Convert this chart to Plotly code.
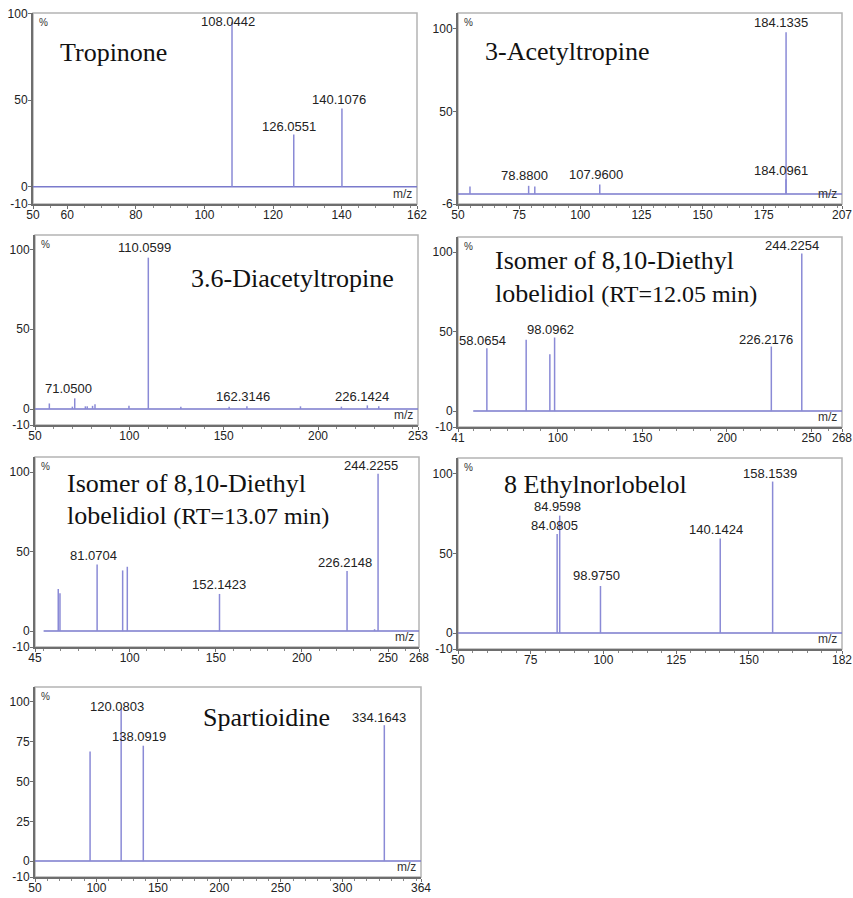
import plotly.graph_objects as go

W, H = 853, 898

# ---------------- spectra (m/z, relative intensity %) ----------------
trop_mz = [108.0442, 126.0551, 140.1076]
trop_int = [95.5, 30.2, 45.2]
trop_lab = ["108.0442", "126.0551", "140.1076"]

acet_mz = [54.9, 78.8800, 81.4, 107.9600, 184.0961, 184.1335]
acet_int = [4.6, 5.0, 4.6, 5.8, 9.0, 97.8]
acet_lab = ["", "78.8800", "", "107.9600", "184.0961", "184.1335"]

diac_mz = [57.6, 69.8, 71.0500, 76.7, 77.7, 80.5, 81.8, 99.8, 110.0599,
           127.3, 152.9, 162.3146, 190.7, 212.4, 226.1424, 232.2]
diac_int = [3.5, 1.5, 6.7, 1.7, 1.7, 2.0, 3.0, 2.0, 94.8,
            1.5, 1.5, 1.7, 1.7, 1.5, 2.3, 1.7]
diac_lab = ["", "", "71.0500", "", "", "", "", "", "110.0599",
            "", "", "162.3146", "", "", "226.1424", ""]

iso1_mz = [58.0654, 81.3, 95.3, 98.0962, 226.2176, 244.2254]
iso1_int = [39.6, 44.8, 35.8, 46.3, 40.6, 99.2]
iso1_lab = ["58.0654", "", "", "98.0962", "226.2176", "244.2254"]

iso2_mz = [58.5, 59.5, 81.0704, 95.9, 98.6, 152.1423, 226.2148, 242.2, 244.2255]
iso2_int = [26.5, 23.8, 42.0, 38.2, 40.5, 23.4, 37.8, 1.2, 99.0]
iso2_lab = ["", "", "81.0704", "", "", "152.1423", "226.2148", "", "244.2255"]

ethyl_mz = [84.0805, 84.9598, 98.9750, 140.1424, 158.1539]
ethyl_int = [62.3, 73.8, 29.6, 59.5, 95.2]
ethyl_lab = ["84.0805", "84.9598", "98.9750", "140.1424", "158.1539"]

spart_mz = [94.8, 120.0803, 138.0919, 334.1643]
spart_int = [68.8, 95.8, 72.5, 85.4]
spart_lab = ["", "120.0803", "138.0919", "334.1643"]

# axis ranges / ticks
trop_xticks = [50, 60, 80, 100, 120, 140, 162]
acet_xticks = [50, 75, 100, 125, 150, 175, 207]
diac_xticks = [50, 100, 150, 200, 253]
iso1_xticks = [41, 100, 150, 200, 250, 268]
iso2_xticks = [45, 100, 150, 200, 250, 268]
ethyl_xticks = [50, 75, 100, 125, 150, 182]
spart_xticks = [50, 100, 150, 200, 250, 300, 364]

std_yticks = [-10, 0, 50, 100]
acet_yticks = [-6, 50, 100]
spart_yticks = [-10, 0, 25, 50, 75, 100]

# ---------------- panel layout (pixel boxes: left, top, right, bottom) ----------------
panels = [
    dict(mz=trop_mz, inten=trop_int, lab=trop_lab, xt=trop_xticks, yt=std_yticks,
         yr=[-10, 100.5], box=(33, 13, 417, 204), minor=5, base0=50,
         shifts=[(-4, 0), (-5, 8), (-3, 9)],
         title=["Tropinone"], tpos=(58, 53)),
    dict(mz=acet_mz, inten=acet_int, lab=acet_lab, xt=acet_xticks, yt=acet_yticks,
         yr=[-6, 109.5], box=(458, 13, 842, 204), minor=5, base0=50,
         shifts=[None, (-4, 10), None, (-4, 10), (-5, 9), (-5, 10)],
         title=["3-Acetyltropine"], tpos=(483, 52)),
    dict(mz=diac_mz, inten=diac_int, lab=diac_lab, xt=diac_xticks, yt=std_yticks,
         yr=[-10, 109], box=(35, 235, 418, 425), minor=10, base0=50,
         shifts=[None, None, (-6, 10), None, None, None, None, None, (-4, 10),
                 None, None, (-4, 10), None, None, (-5, 9), None],
         title=["3.6-Diacetyltropine"], tpos=(189, 278)),
    dict(mz=iso1_mz, inten=iso1_int, lab=iso1_lab, xt=iso1_xticks, yt=std_yticks,
         yr=[-10, 109.5], box=(458, 237, 842, 427), minor=10, base0=50,
         shifts=[(-4, 8), None, None, (-4, 8), (-5, 7), (-10, 8)],
         title=["Isomer of 8,10-Diethyl",
                "lobelidiol <span style='font-size:24px'>(RT=12.05 min)</span>"],
         tpos=(493, 261)),
    dict(mz=iso2_mz, inten=iso2_int, lab=iso2_lab, xt=iso2_xticks, yt=std_yticks,
         yr=[-10, 109.6], box=(35, 457, 419, 647), minor=10, base0=50,
         shifts=[None, None, (-4, 9), None, None, (-1, 9), (-2, 9), None, (-7, 8)],
         title=["Isomer of 8,10-Diethyl",
                "lobelidiol <span style='font-size:24px'>(RT=13.07 min)</span>"],
         tpos=(65, 483)),
    dict(mz=ethyl_mz, inten=ethyl_int, lab=ethyl_lab, xt=ethyl_xticks, yt=std_yticks,
         yr=[-10, 110], box=(458, 458, 842, 649), minor=5, base0=50,
         shifts=[(-3, 8), (-2, 9), (-4, 10), (-4, 9), (-3, 8)],
         title=["8 Ethylnorlobelol"], tpos=(502, 484)),
    dict(mz=spart_mz, inten=spart_int, lab=spart_lab, xt=spart_xticks, yt=spart_yticks,
         yr=[-10, 109.4], box=(35, 687, 421, 877), minor=10, base0=50,
         shifts=[None, (-4, 2), (-4, 9), (-5, 8)],
         title=["Spartioidine"], tpos=(201, 717)),
]

STICK = "#8a8ad6"
BASE = "#7a7acc"
SANS = "Liberation Sans, Arial, sans-serif"
SERIF = "Liberation Serif, Times New Roman, serif"

fig = go.Figure()
annotations = []
shapes = []

for i, p in enumerate(panels, start=1):
    xa = "x" if i == 1 else f"x{i}"
    ya = "y" if i == 1 else f"y{i}"
    l, t, r, b = p["box"]
    xmin, xmax = p["xt"][0], p["xt"][-1]

    # zero baseline of the spectrum
    fig.add_trace(go.Scatter(x=[p["base0"], xmax], y=[0, 0], mode="lines",
                             line=dict(color=BASE, width=1.5), xaxis=xa, yaxis=ya,
                             hoverinfo="skip", showlegend=False))
    # stick spectrum
    sx, sy = [], []
    for m, v in zip(p["mz"], p["inten"]):
        sx += [m, m, None]
        sy += [0, v, None]
    fig.add_trace(go.Scatter(x=sx, y=sy, mode="lines",
                             line=dict(color=STICK, width=1.5), xaxis=xa, yaxis=ya,
                             hoverinfo="skip", showlegend=False))

    axis_common = dict(showline=True, linecolor="#6e6e6e", linewidth=2,
                       ticks="outside", ticklen=3, tickcolor="#6e6e6e",
                       showgrid=False, zeroline=False, automargin=False,
                       tickfont=dict(family=SANS, size=12, color="#222"))
    fig.update_layout({
        ("xaxis" if i == 1 else f"xaxis{i}"): dict(
            domain=[l / W, r / W], range=[xmin, xmax], anchor=ya,
            tickmode="array", tickvals=p["xt"], ticktext=[str(v) for v in p["xt"]],
            ticklabelstandoff=-4,
            minor=dict(dtick=p["minor"], tick0=0, ticklen=2, tickcolor="#888",
                       ticks="outside", showgrid=False),
            **axis_common),
        ("yaxis" if i == 1 else f"yaxis{i}"): dict(
            domain=[1 - b / H, 1 - t / H], range=p["yr"], anchor=xa,
            tickmode="array", tickvals=p["yt"], ticktext=[str(v) for v in p["yt"]],
            ticklabelstandoff=-2,
            **axis_common),
    })

    # light frame around the plot area
    shapes.append(dict(type="rect", xref=f"{xa} domain", yref=f"{ya} domain",
                       x0=0, x1=1, y0=0, y1=1, layer="below",
                       line=dict(color="#b4b4b4", width=1.5)))

    # peak labels
    for m, v, txt, sh in zip(p["mz"], p["inten"], p["lab"], p["shifts"]):
        if not txt:
            continue
        annotations.append(dict(x=m, y=v, xref=xa, yref=ya, text=txt, showarrow=False,
                                xanchor="center", yanchor="middle",
                                xshift=sh[0], yshift=sh[1],
                                font=dict(family=SANS, size=13, color="#222")))

    # "%" and "m/z" axis captions
    annotations.append(dict(x=0, y=1, xref=f"{xa} domain", yref=f"{ya} domain",
                            text="%", showarrow=False, xanchor="left", yanchor="top",
                            xshift=4, yshift=-2,
                            font=dict(family=SANS, size=10, color="#333")))
    annotations.append(dict(x=1, y=0, xref=f"{xa} domain", yref=f"{ya} domain",
                            text="m/z", showarrow=False, xanchor="right", yanchor="bottom",
                            xshift=-3, yshift=1,
                            font=dict(family=SANS, size=12, color="#333")))

    # compound name
    tx, ty = p["tpos"]
    for k, line in enumerate(p["title"]):
        annotations.append(dict(x=tx / W, y=1 - (ty + 32 * k) / H, xref="paper", yref="paper",
                                text=line, showarrow=False, xanchor="left", yanchor="middle",
                                font=dict(family=SERIF, size=26, color="#111")))

fig.update_layout(width=W, height=H, margin=dict(l=0, r=0, t=0, b=0, autoexpand=False),
                  paper_bgcolor="white", plot_bgcolor="white",
                  annotations=annotations, shapes=shapes, showlegend=False)

fig.write_html("out.html")
